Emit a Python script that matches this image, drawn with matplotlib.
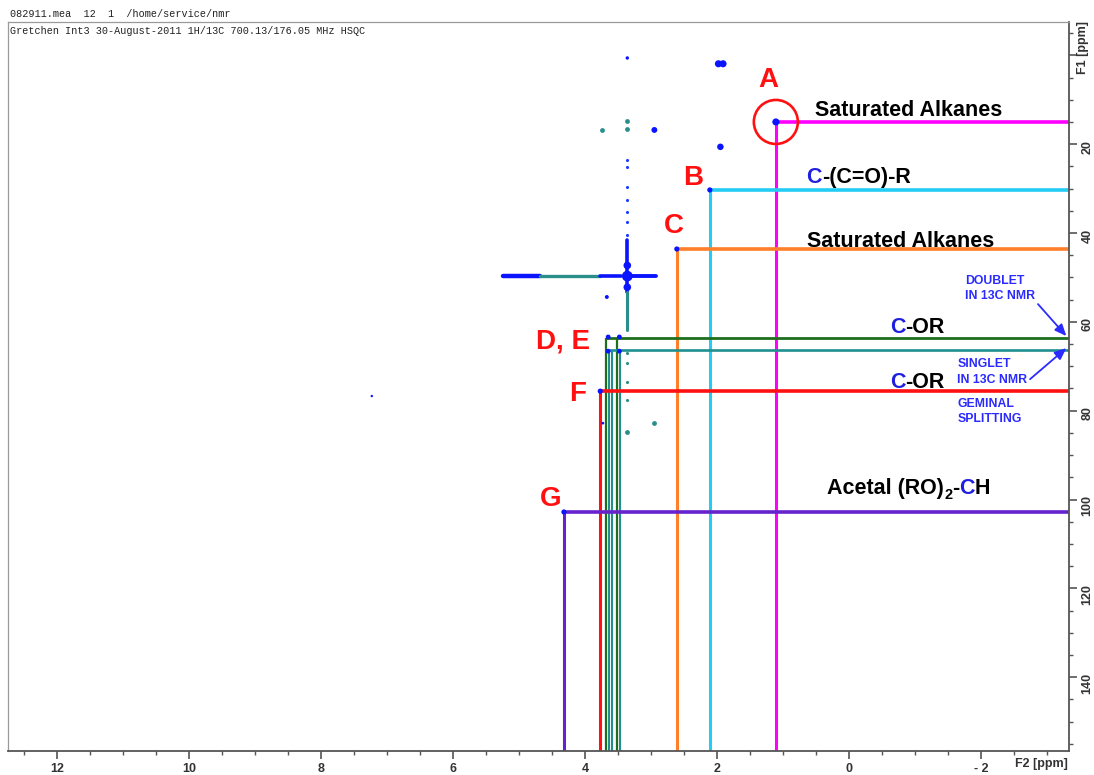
import matplotlib
matplotlib.use("Agg")
import matplotlib.pyplot as plt
from matplotlib.patches import Ellipse
from matplotlib.ticker import MultipleLocator, FuncFormatter
from matplotlib import transforms

plt.rcParams['font.family'] = ['Liberation Sans', 'DejaVu Sans']
plt.rcParams['font.weight'] = 'bold'

# ---------------- data ----------------
# HSQC cross-peaks (1H shift, 13C shift) of the assigned signals
assign_labels = ['A', 'B', 'C', 'D, E', 'F', 'G']
assign_h = [1.11, 2.11, 2.61, 3.685, 3.77, 4.32]
assign_c = [15.0, 30.3, 43.6, 63.6, 75.6, 102.8]

# guide lines: (1H positions of vertical drops, 13C level, colour)
guide_h_lists = [[1.11], [2.11], [2.61], [3.685, 3.52], [3.636, 3.585, 3.47], [3.77], [4.32]]
guide_c = [15.0, 30.3, 43.6, 63.6, 66.3, 75.6, 102.8]
guide_colors = ['#ff00ff', '#22ccf5', '#ff7f2a', '#1e6e1e', '#1f8f8f', '#ff1111', '#6622cc']
guide_widths = [2.2, 2.2, 2.2, 1.6, 1.5, 2.2, 2.2]

# blue contour peaks
blue_h = [1.11, 2.11, 2.61, 3.65, 3.48, 3.65, 3.48, 3.77, 4.32, 1.95, 1.98, 1.91,
          2.95, 3.67, 3.36, 7.23, 3.73]
blue_c = [15.0, 30.3, 43.6, 63.4, 63.4, 66.6, 66.6, 75.6, 102.8, 20.6, 1.9, 1.9,
          16.8, 54.4, 0.6, 76.7, 82.8]
blue_s = [26, 14, 14, 12, 12, 12, 12, 14, 14, 22, 26, 26, 18, 8, 6, 3, 4]

# teal contour peaks
teal_h = [3.74, 3.36, 3.36, 2.95, 3.36]
teal_c = [16.8, 14.8, 16.6, 82.8, 84.8]

# t1-noise ridge at 3.36 ppm (13C positions of the streak dots)
noise_c_blue = [23.5, 25.1, 29.6, 32.5, 35.2, 37.5, 40.4]
noise_c_teal = [67.0, 69.3, 73.5, 77.6]

# solvent cross ridge (1H span, 13C span, colour, width)
ridge_h_start = [5.24, 4.68, 3.77, 3.30]
ridge_h_end = [4.68, 3.77, 3.45, 2.92]
ridge_h_colors = ['#0a14ff', '#2a8f8a', '#0a14ff', '#0a14ff']
ridge_h_widths = [3.2, 2.4, 2.6, 2.8]
ridge_c_level = 49.7
ridge_v_start = [41.5, 53.3]
ridge_v_end = [53.3, 61.8]
ridge_v_colors = ['#0a14ff', '#2a8f8a']
ridge_v_widths = [2.6, 2.2]
ridge_h_level = 3.36

# ---------------- figure ----------------
W, H, DPI = 1094, 775, 100
fig = plt.figure(figsize=(W / DPI, H / DPI), dpi=DPI)
ax = fig.add_axes([8 / W, 24 / H, 1061 / W, 729 / H])
ax.set_xlim(12.74, -3.33)
ax.set_ylim(156.6, -7.5)

# axes styling (Bruker TopSpin look)
for side in ('left', 'top'):
    ax.spines[side].set_color('#9a9a9a')
    ax.spines[side].set_linewidth(0.9)
for side in ('bottom', 'right'):
    ax.spines[side].set_color('#555555')
    ax.spines[side].set_linewidth(1.3)

ax.xaxis.set_major_locator(MultipleLocator(2))
ax.xaxis.set_minor_locator(MultipleLocator(0.5))
ax.yaxis.tick_right()
ax.yaxis.set_major_locator(MultipleLocator(20))
ax.yaxis.set_minor_locator(MultipleLocator(5))
ax.xaxis.set_major_formatter(FuncFormatter(
    lambda v, p: ('- %d' % round(-v)) if v < -0.01 else '%d' % round(v)))
ax.yaxis.set_major_formatter(FuncFormatter(
    lambda v, p: '' if v < 1 else '%d' % round(v)))
ax.tick_params(which='major', length=6, width=1.2, color='#555555',
               labelsize=9, labelcolor='#333333', pad=3)
ax.tick_params(which='minor', length=3, width=1.0, color='#555555')
ax.tick_params(axis='y', labelrotation=90)

# guide lines to the axes
for hs, c, col, lw in zip(guide_h_lists, guide_c, guide_colors, guide_widths):
    for h in hs:
        ax.plot([h, h], [c, 156.6], color=col, lw=lw, solid_capstyle='butt', zorder=2)
    ax.plot([max(hs), -3.33], [c, c], color=col, lw=lw + 0.4, solid_capstyle='butt', zorder=2)

# cross ridge
for a, b, col, lw in zip(ridge_h_start, ridge_h_end, ridge_h_colors, ridge_h_widths):
    ax.plot([a, b], [ridge_c_level, ridge_c_level], color=col, lw=lw,
            solid_capstyle='round', zorder=3)
for a, b, col, lw in zip(ridge_v_start, ridge_v_end, ridge_v_colors, ridge_v_widths):
    ax.plot([ridge_h_level, ridge_h_level], [a, b], color=col, lw=lw,
            solid_capstyle='round', zorder=3)
ax.scatter([ridge_h_level] * 3, [47.3, ridge_c_level, 52.2], s=[30, 60, 30],
           color='#0a14ff', zorder=4, linewidths=0)
ax.scatter([ridge_h_level] * len(noise_c_blue), noise_c_blue, s=5,
           color='#1a3cff', zorder=3, linewidths=0)
ax.scatter([ridge_h_level] * len(noise_c_teal), noise_c_teal, s=5,
           color='#2a8f8a', zorder=3, linewidths=0)

# contour peaks
ax.scatter(blue_h, blue_c, s=blue_s, color='#0a14ff', zorder=5, linewidths=0)
ax.scatter(teal_h, teal_c, s=12, color='#2a8f8a', zorder=5, linewidths=0)

# highlight circle on peak A
ax.add_patch(Ellipse((assign_h[0], assign_c[0]), width=44 / 66, height=44 / 4.44,
                     fill=False, ec='#ff1111', lw=1.9, zorder=6))

# peak letters
letter_pos = [(1.227, 5.5), (2.364, 27.6), (2.652, 38.4), (4.333, 64.5),
              (4.106, 76.2), (4.515, 99.9)]
for lab, (x, y) in zip(assign_labels, letter_pos):
    ax.text(x, y, lab, color='#ff1111', fontsize=20, fontweight='bold',
            ha='center', va='center', zorder=7)

# group labels with coloured carbon
renderer = fig.canvas.get_renderer()
BLUE = '#1f1fe0'


def colored_text(x, y, parts, size=15.5):
    """Draw consecutive text pieces; each piece is (text, colour[, size, dy])."""
    offset = 0.0
    for part in parts:
        s, col = part[0], part[1]
        fs = part[2] if len(part) > 2 else size
        dy = part[3] if len(part) > 3 else 0
        tr = transforms.offset_copy(ax.transData, fig=fig, x=offset, y=dy, units='dots')
        t = ax.text(x, y, s, color=col, transform=tr, fontsize=fs,
                    fontweight='bold', ha='left', va='baseline', zorder=7)
        offset += t.get_window_extent(renderer).width


colored_text(0.515, 13.6, [('Saturated Alkanes', 'black')])
colored_text(0.65, 28.7, [('C', BLUE), ('-(C=O)-R', 'black')])
colored_text(0.636, 43.2, [('Saturated Alkanes', 'black')])
colored_text(-0.62, 62.5, [('C', BLUE), ('-OR', 'black')])
colored_text(-0.62, 74.9, [('C', BLUE), ('-OR', 'black')])
colored_text(0.333, 98.8, [('Acetal (RO)', 'black'), ('2', 'black', 10.5, -5),
                           ('-', 'black'), ('C', BLUE), ('H', 'black')])

# multiplicity notes
NOTE = '#2b2bff'
ax.text(-1.76, 52.4, 'DOUBLET\nIN 13C NMR', color=NOTE, fontsize=8.8,
        fontweight='bold', ha='left', va='center', linespacing=1.35, zorder=7)
ax.text(-1.64, 71.3, 'SINGLET\nIN 13C NMR', color=NOTE, fontsize=8.8,
        fontweight='bold', ha='left', va='center', linespacing=1.35, zorder=7)
ax.text(-1.64, 80.1, 'GEMINAL\nSPLITTING', color=NOTE, fontsize=8.8,
        fontweight='bold', ha='left', va='center', linespacing=1.35, zorder=7)
ax.annotate('', xy=(-3.29, 63.2), xytext=(-2.86, 56.0),
            arrowprops=dict(arrowstyle='-|>,head_length=0.7,head_width=0.3',
                            color=NOTE, lw=1.3, shrinkA=0, shrinkB=0), zorder=7)
ax.annotate('', xy=(-3.29, 65.9), xytext=(-2.74, 72.9),
            arrowprops=dict(arrowstyle='-|>,head_length=0.7,head_width=0.3',
                            color=NOTE, lw=1.3, shrinkA=0, shrinkB=0), zorder=7)

# axis titles and acquisition header
fig.text(1041 / W, 1 - 764 / H, 'F2 [ppm]', ha='center', va='center',
         fontsize=9, fontweight='bold', color='#333333')
fig.text(1083 / W, 1 - 47 / H, 'F1 [ppm]', ha='center', va='center', rotation=90,
         fontsize=9, fontweight='bold', color='#333333')
fig.text(10 / W, 1 - 14 / H, '082911.mea  12  1  /home/service/nmr',
         family='Liberation Mono', fontweight='normal', fontsize=7.3,
         ha='left', va='center', color='#222222')
fig.text(10 / W, 1 - 31 / H,
         'Gretchen Int3 30-August-2011 1H/13C 700.13/176.05 MHz HSQC',
         family='Liberation Mono', fontweight='normal', fontsize=7.3,
         ha='left', va='center', color='#222222')

fig.savefig('out.png', dpi=DPI)
